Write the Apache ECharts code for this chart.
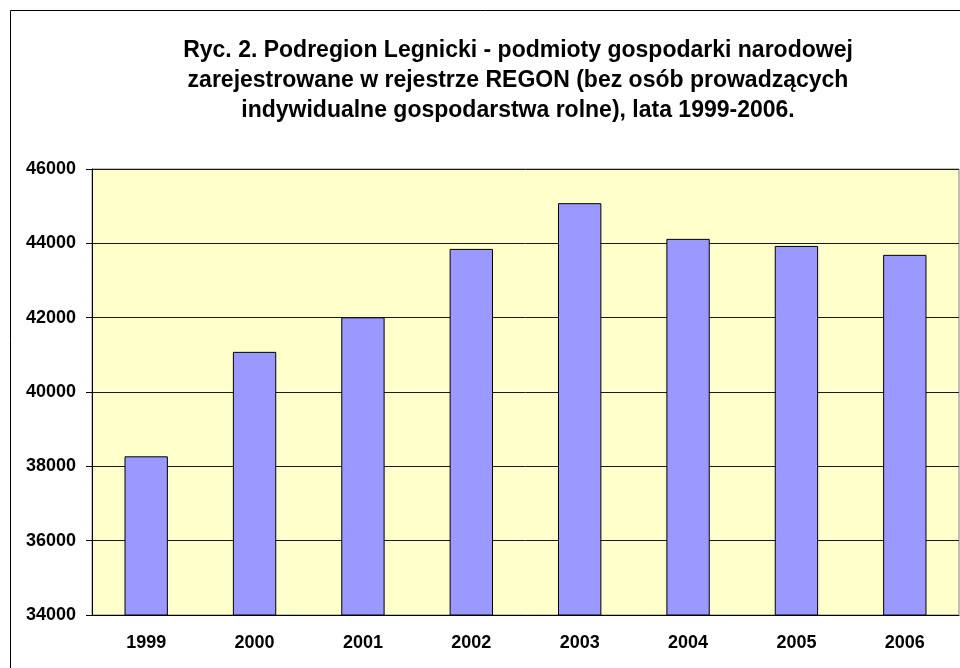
<!DOCTYPE html>
<html>
<head>
<meta charset="utf-8">
<script src="https://cdn.jsdelivr.net/npm/echarts@6/dist/echarts.min.js"></script>
<style>
  html, body { margin: 0; padding: 0; background: #fff; }
  #chart { width: 960px; height: 668px; }
</style>
</head>
<body>
<div id="chart"></div>
<script>
// 数据：年份 × 登记主体数
const years = ['1999', '2000', '2001', '2002', '2003', '2004', '2005', '2006'];
const entities = [38270, 41080, 42010, 43850, 45080, 44120, 43930, 43690];
const titleLines = [
  'Ryc. 2. Podregion Legnicki - podmioty gospodarki narodowej',
  'zarejestrowane w rejestrze REGON (bez osób prowadzących',
  'indywidualne gospodarstwa rolne), lata 1999-2006.'
];

const FONT = '"Liberation Sans", Arial, sans-serif';
const chart = echarts.init(document.getElementById('chart'), null, { renderer: 'canvas' });

chart.setOption({
  backgroundColor: '#fff',
  animation: false,
  graphic: [
    // 外框（右侧和底部超出画面）
    { type: 'rect', silent: true, z: 0,
      shape: { x: 10.5, y: 10.5, width: 1200, height: 1000 },
      style: { fill: null, stroke: '#000', lineWidth: 1 } },
    { type: 'text', silent: true, z: 10,
      x: 518, y: 81,
      style: { text: titleLines.join('\n'), align: 'center', verticalAlign: 'middle',
        font: 'bold 23px ' + FONT, lineHeight: 30, fill: '#000' } }
  ],
  grid: {
    left: 92, right: 1, top: 169, bottom: 53,
    show: true, backgroundColor: '#FFFFCC', borderColor: '#808080', borderWidth: 1
  },
  xAxis: {
    type: 'category', data: years,
    axisLine: { lineStyle: { color: '#000', width: 1 } },
    axisTick: { length: 6, lineStyle: { color: '#000' } },
    axisLabel: { color: '#000', fontWeight: 'bold', fontSize: 18, fontFamily: FONT, margin: 19 }
  },
  yAxis: {
    type: 'value', min: 34000, max: 46000, interval: 2000,
    axisLine: { show: true, lineStyle: { color: '#000', width: 1 } },
    axisTick: { show: true, length: 6, lineStyle: { color: '#000' } },
    axisLabel: { color: '#000', fontWeight: 'bold', fontSize: 18, fontFamily: FONT, margin: 16,
      formatter: v => String(v) },
    splitLine: { lineStyle: { color: '#1a1a1a', width: 1 } }
  },
  series: [{
    type: 'bar', data: entities, barWidth: '40%',
    itemStyle: { color: '#9999FF', borderColor: '#000', borderWidth: 1 }
  }]
});
</script>
</body>
</html>
